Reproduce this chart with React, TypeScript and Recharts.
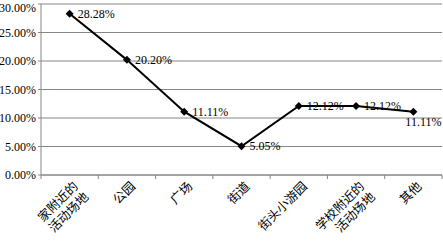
import { CartesianGrid, LabelList, Line, LineChart, XAxis, YAxis } from "recharts";

const places = ["家附近的\n活动场地", "公园", "广场", "街道", "街头小游园", "学校附近的\n活动场地", "其他"];
const shares = [28.28, 20.2, 11.11, 5.05, 12.12, 12.12, 11.11];
const yTicks = [0, 5, 10, 15, 20, 25, 30];

const data = places.map((place, i) => ({ place, share: shares[i] }));

const FONT = '"Liberation Serif", "Noto Sans CJK SC", serif';
const axisGray = "#868686";

function Diamond({ cx, cy }: any) {
  if (cx == null || cy == null) return null;
  const r = 4;
  return <path d={`M${cx},${cy - r}L${cx + r},${cy}L${cx},${cy + r}L${cx - r},${cy}Z`} fill="#000" />;
}

function PlaceTick({ x, y, payload, index, visibleTicksCount }: any) {
  const half = payload?.offset || 28.7;
  const lines = String(payload.value).split("\n");
  const last = index === visibleTicksCount - 1;
  return (
    <g>
      <line x1={x - half} y1={y - 8} x2={x - half} y2={y - 4} stroke={axisGray} />
      {last && <line x1={x + half} y1={y - 8} x2={x + half} y2={y - 4} stroke={axisGray} />}
      <g transform={`translate(${x + 6},${y + 1})`}>
        <text transform="rotate(-45)" textAnchor="end" fontSize={12.5} fontFamily={FONT} fill="#000">
          {lines.map((l, i) => (
            <tspan key={i} x={0} dy={i === 0 ? "0.35em" : 15}>{l}</tspan>
          ))}
        </text>
      </g>
    </g>
  );
}

function ValueLabel({ x, y, value, index }: any) {
  const below = index === shares.length - 1;
  return (
    <text
      x={below ? x - 8 : x + 8}
      y={below ? y + 14 : y + 4}
      fontSize={12}
      fontFamily={FONT}
      fill="#000"
      textAnchor="start"
    >
      {`${Number(value).toFixed(2)}%`}
    </text>
  );
}

export default function App() {
  return (
    <div style={{ position: "absolute", left: 0, top: 0, background: "#fff" }}>
      <LineChart width={443} height={244} data={data} margin={{ top: 4, right: 1, bottom: 0, left: 0 }}>
        <CartesianGrid vertical={false} stroke={axisGray} strokeWidth={1} />
        <XAxis
          dataKey="place"
          scale="band"
          interval={0}
          height={69}
          tickLine={false}
          axisLine={{ stroke: axisGray }}
          tick={<PlaceTick />}
        />
        <YAxis
          width={41}
          domain={[0, 30]}
          ticks={yTicks}
          tickSize={3}
          tickMargin={2}
          tickLine={{ stroke: axisGray }}
          axisLine={{ stroke: axisGray }}
          tickFormatter={(v: number) => `${v.toFixed(2)}%`}
          tick={{ fill: "#000", fontSize: 12, fontFamily: FONT }}
        />
        <Line
          dataKey="share"
          stroke="#000"
          strokeWidth={2}
          dot={<Diamond />}
          activeDot={false}
          isAnimationActive={false}
        >
          <LabelList dataKey="share" content={<ValueLabel />} />
        </Line>
      </LineChart>
    </div>
  );
}
